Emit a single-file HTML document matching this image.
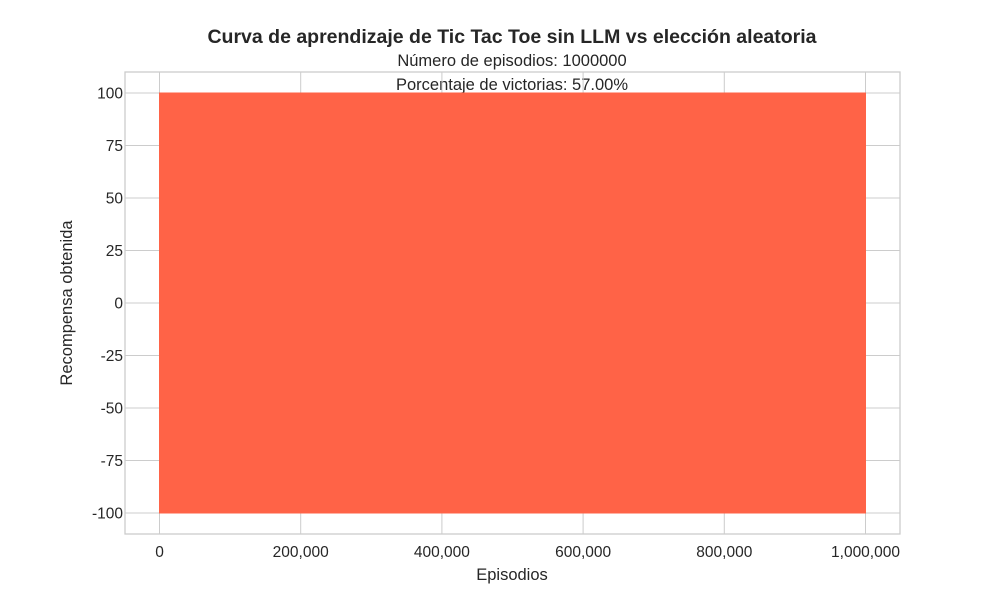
<!DOCTYPE html>
<html><head><meta charset="utf-8"><style>
body{margin:0;background:#fff;}
svg text{font-family:"Liberation Sans","DejaVu Sans",sans-serif;fill:#262626;}
</style></head><body>
<svg id="chart" width="1000" height="600">
<text x="512" y="43" text-anchor="middle" font-size="19.5" font-weight="bold">Curva de aprendizaje de Tic Tac Toe sin LLM vs elección aleatoria</text>
<text x="512" y="66" text-anchor="middle" font-size="16.5">Número de episodios: 1000000</text>
<text x="512" y="90" text-anchor="middle" font-size="16.5">Porcentaje de victorias: 57.00%</text>
<g id="grid"></g>
<g id="marks"></g>
<g id="ticks"></g>
<rect x="125" y="72" width="775" height="462" fill="none" stroke="#ccc" stroke-width="1.3"/>
<text x="512" y="580" text-anchor="middle" font-size="16.5">Episodios</text>
<text transform="translate(72,303) rotate(-90)" text-anchor="middle" font-size="16.5">Recompensa obtenida</text>
</svg>
<script>
const episodes = [0, 1000000];
const rewardMax = [100, 100];
const rewardMin = [-100, -100];
const xTicks = [0, 200000, 400000, 600000, 800000, 1000000];
const xTickLabels = ["0", "200,000", "400,000", "600,000", "800,000", "1,000,000"];
const yTicks = [100, 75, 50, 25, 0, -25, -50, -75, -100];
const yTickLabels = ["100", "75", "50", "25", "0", "-25", "-50", "-75", "-100"];

const NS = "http://www.w3.org/2000/svg";
const xs = v => 159.5 + (v / 1000000) * 706;
const ys = v => 303 - (v / 100) * 210;
function mk(tag, attrs, parent) {
  const e = document.createElementNS(NS, tag);
  for (const k in attrs) e.setAttribute(k, attrs[k]);
  document.getElementById(parent).appendChild(e);
  return e;
}
xTicks.forEach((t, i) => {
  const l = mk("line", {x1: xs(t), x2: xs(t), y1: 72, y2: 534, stroke: "#ccc", "stroke-width": 1}, "grid");
  
  
  const tx = mk("text", {x: xs(t), y: 557, "text-anchor": "middle", "font-size": 15.5}, "ticks");
  tx.textContent = xTickLabels[i];
  
  
});
yTicks.forEach((t, i) => {
  const l = mk("line", {x1: 125, x2: 900, y1: ys(t), y2: ys(t), stroke: "#ccc", "stroke-width": 1}, "grid");
  
  
  const tx = mk("text", {x: 123, y: ys(t) + 5.5, "text-anchor": "end", "font-size": 15.5}, "ticks");
  tx.textContent = yTickLabels[i];
  
  
});
let pts = episodes.map((e, i) => xs(e) + "," + ys(rewardMax[i]));
for (let i = episodes.length - 1; i >= 0; i--) pts.push(xs(episodes[i]) + "," + ys(rewardMin[i]));
const p = mk("polygon", {points: pts.join(" "), fill: "#ff6347", stroke: "#ff6347", "stroke-width": 1}, "marks");


</script>
</body></html>
